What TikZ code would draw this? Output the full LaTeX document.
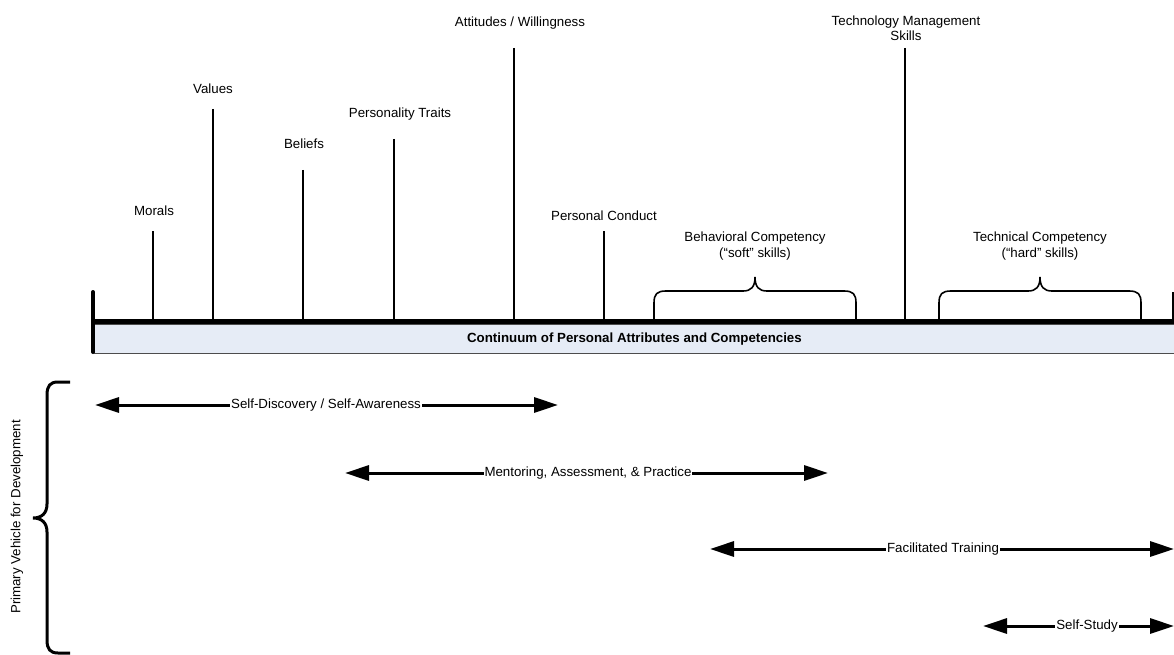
\documentclass[tikz,border=0pt]{standalone}
\usepackage{fontspec}
\setmainfont{Liberation Sans}
\usetikzlibrary{arrows.meta}
\definecolor{barfill}{HTML}{E6ECF6}
\begin{document}
\begin{tikzpicture}[x=1pt,y=-1pt,
  lbl/.style={inner sep=0pt,font=\fontsize{13.3}{15.5}\selectfont,align=center},
  tick/.style={line width=1.5pt},
  brace/.style={line width=1.6pt},
  span/.style={line width=3pt,{Triangle[length=24pt,width=15pt]}-{Triangle[length=24pt,width=15pt]}},
  spanlbl/.style={lbl,fill=white,inner xsep=1pt,inner ysep=1pt}]
\useasboundingbox (0,0) rectangle (1174,655);

% continuum bar
\node[draw=black!70,line width=0.8pt,fill=barfill,minimum width=1080pt,minimum height=29pt,anchor=north west,inner sep=0pt,
  font=\fontsize{13.3}{15.5}\selectfont\bfseries] (bar) at (94,324) {Continuum of Personal Attributes and Competencies};
\coordinate (axL) at (93,321);
\coordinate (axR) at (1174,321);
\draw[line width=5pt] (axL) -- (axR);
\draw[line width=4pt,line cap=round] (93,292) -- (93,352);
\draw[line width=3pt] (1173,292) -- (1173,320);

% attribute ticks and their labels
\foreach \n/\x/\t/\lx/\ly/\txt in {mor/153/231/154/211/{Morals}, val/213/109/213/89/{Values}, bel/303/170/304/144/{Beliefs},
    per/394/139/400/114/{Personality Traits}, att/514/48/520/23/{Attitudes / Willingness}, con/604/231/604/216/{Personal Conduct}}{
  \coordinate (\n-top) at (\x,\t);
  \coordinate (\n-bot) at (\x,320);
  \draw[tick] (\n-top) -- (\n-bot);
  \node[lbl] (\n) at (\lx,\ly) {\txt};
}
\coordinate (tec-top) at (905,48);
\coordinate (tec-bot) at (905,320);
\draw[tick] (tec-top) -- (tec-bot);
\node[lbl] (tec) at (906,28) {Technology Management\\Skills};

% competency braces
\foreach \n/\a/\m/\b in {beh/654/755/856, tch/939/1040/1141}{
  \draw[brace] (\a,320) -- (\a,303) .. controls (\a,294) and (\a+3,291) .. (\a+12,291)
    -- (\m-12,291) .. controls (\m-4,291) and (\m,287) .. (\m,277)
    .. controls (\m,287) and (\m+4,291) .. (\m+12,291)
    -- (\b-12,291) .. controls (\b-3,291) and (\b,294) .. (\b,303) -- (\b,320);
}
\node[lbl] (beh) at (755,246) {Behavioral Competency\\(“soft” skills)};
\node[lbl] (tch) at (1040,246) {Technical Competency\\(“hard” skills)};

% development vehicle brace
\draw[line width=3pt] (70,382) -- (58,382) .. controls (50,382) and (47,386) .. (47,395)
  -- (47,504) .. controls (47,513) and (42,518) .. (33,518)
  .. controls (42,518) and (47,523) .. (47,532)
  -- (47,640) .. controls (47,649) and (50,653) .. (58,653) -- (70,653);
\node[lbl,rotate=90] (veh) at (17,517) {Primary Vehicle for Development};

% development spans
\foreach \n/\a/\b/\y/\c/\txt in {sd/95/558/405/326/{Self-Discovery / Self-Awareness},
    mt/345/828/473/588/{Mentoring, Assessment, \& Practice},
    ft/710/1174/549/943/{Facilitated Training},
    ss/983/1174/626/1087/{Self-Study}}{
  \coordinate (\n-l) at (\a,\y);
  \coordinate (\n-r) at (\b,\y);
  \draw[span] (\n-l) -- (\n-r);
  \node[spanlbl] (\n) at (\c,\y) {\txt};
}
\end{tikzpicture}
\end{document}
